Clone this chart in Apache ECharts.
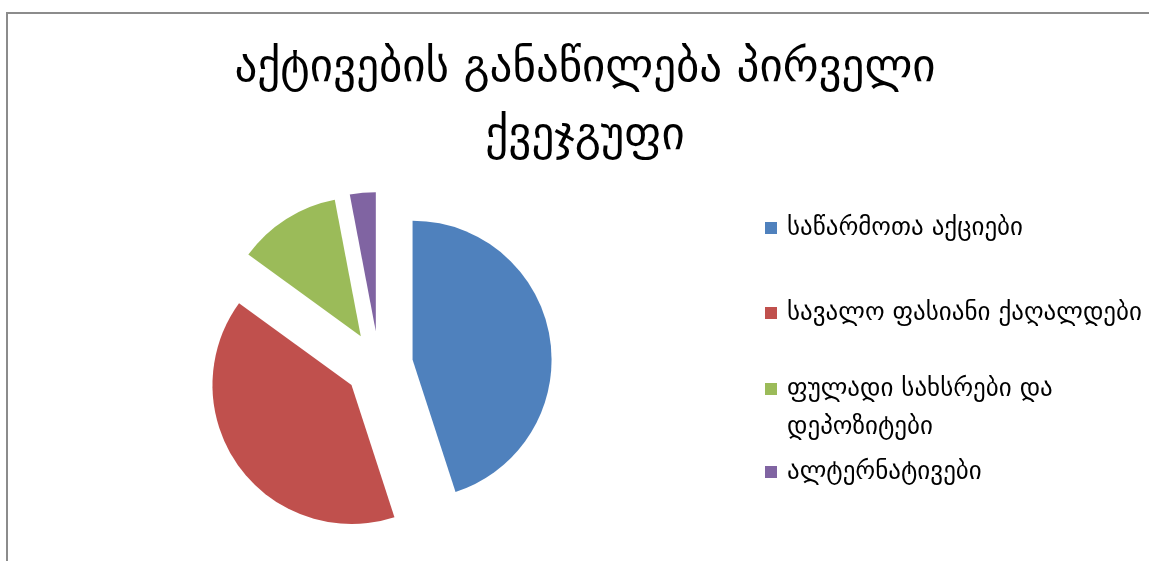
<!DOCTYPE html>
<html>
<head>
<meta charset="utf-8">
<script src="https://cdn.jsdelivr.net/npm/echarts@6/dist/echarts.min.js"></script>
<style>
html,body{margin:0;padding:0;background:#fff;}
#chart{width:1149px;height:561px;}
</style>
</head>
<body>
<div id="chart"></div>
<script>
var titleText = 'აქტივების განაწილება პირველი\nქვეჯგუფი';
var categories = ['საწარმოთა აქციები', 'სავალო ფასიანი ქაღალდები', 'ფულადი სახსრები და დეპოზიტები', 'ალტერნატივები'];
var values = [45, 40, 12, 3];
var legendLabels = ['საწარმოთა აქციები', 'სავალო ფასიანი ქაღალდები', ' \nფულადი სახსრები და\nდეპოზიტები', 'ალტერნატივები'];
var colors = ['#4F81BD', '#C0504D', '#9BBB59', '#8064A2'];

var FONT = '"DejaVu Sans", sans-serif';
var chart = echarts.init(document.getElementById('chart'));

var legendCenters = [228, 313, 389, 472];
var LH = 38;
var legends = categories.map(function (name, i) {
  var nLines = legendLabels[i].split('\n').length;
  return {
    data: [name],
    left: 760,
    top: legendCenters[i] - nLines * LH / 2,
    orient: 'vertical',
    padding: 0,
    icon: 'path://M0,0M22,12M5,0L17,0L17,12L5,12Z',
    symbolKeepAspect: false,
    itemWidth: 22,
    itemHeight: 12,
    selectedMode: false,
    formatter: function () { return legendLabels[i]; },
    textStyle: {
      fontFamily: FONT,
      fontSize: 25,
      color: '#000',
      lineHeight: LH
    }
  };
});

chart.setOption({
  animation: false,
  backgroundColor: '#fff',
  color: colors,
  title: {
    text: titleText,
    left: 580,
    textAlign: 'center',
    top: 30,
    textStyle: {
      fontFamily: FONT,
      fontSize: 45,
      fontWeight: 'normal',
      color: '#000',
      lineHeight: 68
    }
  },
  legend: legends,
  graphic: [{
    type: 'rect',
    shape: { x: 7, y: 13, width: 1300, height: 700 },
    style: { fill: 'none', stroke: '#8c8c8c', lineWidth: 2 },
    silent: true,
    z: -1
  }],
  series: [{
    type: 'pie',
    center: [379, 365],
    radius: 139,
    startAngle: 90,
    clockwise: true,
    selectedMode: 'multiple',
    selectedOffset: 34,
    label: { show: false },
    labelLine: { show: false },
    emphasis: { disabled: true },
    itemStyle: { borderWidth: 0 },
    data: categories.map(function (name, i) {
      return { name: name, value: values[i], selected: true };
    })
  }]
});
</script>
</body>
</html>
